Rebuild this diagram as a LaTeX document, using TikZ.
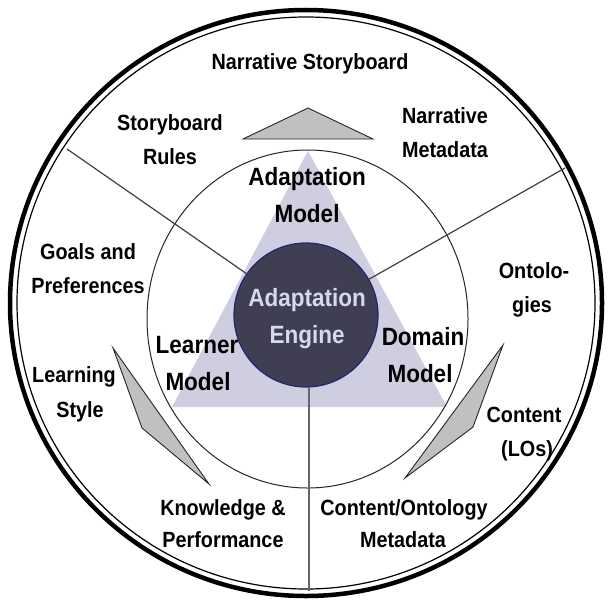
\documentclass[tikz,border=0pt]{standalone}
\usepackage{fontspec}
\setmainfont{Liberation Sans}[FakeStretch=0.9]
\definecolor{tricol}{RGB}{206,206,224}
\definecolor{engcol}{RGB}{64,62,82}
\definecolor{engtext}{RGB}{216,216,236}
\definecolor{engborder}{RGB}{36,36,116}
\definecolor{wedgecol}{RGB}{192,192,192}
\begin{document}
\begin{tikzpicture}[x=1pt,y=-1pt,
  lbl/.style={font=\fontsize{22}{22}\selectfont\bfseries, anchor=base, inner sep=0pt},
  biglbl/.style={font=\fontsize{25}{25}\selectfont\bfseries, anchor=base, inner sep=0pt},
  englbl/.style={biglbl, text=engtext},
  spoke/.style={draw=black!75, line width=1.2pt},
  wedge/.style={fill=wedgecol, draw=black!85, line width=0.9pt, line join=miter}]
\useasboundingbox (0,0) rectangle (609,599);
\fill[white] (0,0) rectangle (609,599);
% outer double ring
\draw[line width=4.5pt] (306,303) ellipse [x radius=296pt, y radius=293pt];
\draw[line width=1.2pt] (306,303) ellipse [x radius=289pt, y radius=286pt];
% big triangle
\fill[tricol] (308,151) -- (172,407) -- (447,407) -- cycle;
% inner circle
\draw[black!85, line width=1pt] (307.5,319) ellipse [x radius=160.5pt, y radius=169pt];
% engine
\node[circle, fill=engcol, draw=engborder, line width=1.2pt, minimum size=144pt, inner sep=0pt] (eng) at (306,315) {};
% spokes
\coordinate (ul) at (67,149);
\coordinate (ur) at (565,168);
\coordinate (bt) at (309,591);
\draw[spoke] (ul) -- (eng);
\draw[spoke] (ur) -- (eng);
\draw[draw=black!60, line width=1.6pt] (eng.south -| bt) -- (bt);
% grey wedges
\path[wedge] (243,139) -- (308,108) -- (373,139) -- cycle;
\path[wedge] (113,348) -- (142,428) -- (209,484) -- cycle;
\path[wedge] (503,345) -- (473,427) -- (405,478) -- cycle;
% outer labels
\node[lbl] (ns) at (310,70) {Narrative Storyboard};
\node[lbl] (sr1) at (170,130) {Storyboard};
\node[lbl] (sr2) at (170,164) {Rules};
\node[lbl] (nm1) at (445,123) {Narrative};
\node[lbl] (nm2) at (445,157) {Metadata};
\node[lbl] (gp1) at (88,259) {Goals and};
\node[lbl] (gp2) at (88,293) {Preferences};
\node[lbl] (ls1) at (74,382) {Learning};
\node[lbl] (ls2) at (80,417) {Style};
\node[lbl] (on1) at (534,278) {Ontolo-};
\node[lbl] (on2) at (532,312) {gies};
\node[lbl] (ct1) at (524,422) {Content};
\node[lbl] (ct2) at (527,456) {(LOs)};
\node[lbl] (kp1) at (223,515) {Knowledge \&};
\node[lbl] (kp2) at (223,547) {Performance};
\node[lbl] (cm1) at (404,515) {Content/Ontology};
\node[lbl] (cm2) at (403,547) {Metadata};
% inner labels
\node[biglbl] (am1) at (307,185) {Adaptation};
\node[biglbl] (am2) at (307,222) {Model};
\node[biglbl] (lm1) at (197,353) {Learner};
\node[biglbl] (lm2) at (198,390) {Model};
\node[biglbl] (dm1) at (423,345) {Domain};
\node[biglbl] (dm2) at (420,382) {Model};
\node[englbl] (ae1) at (307,306) {Adaptation};
\node[englbl] (ae2) at (307,343) {Engine};
\end{tikzpicture}
\end{document}
